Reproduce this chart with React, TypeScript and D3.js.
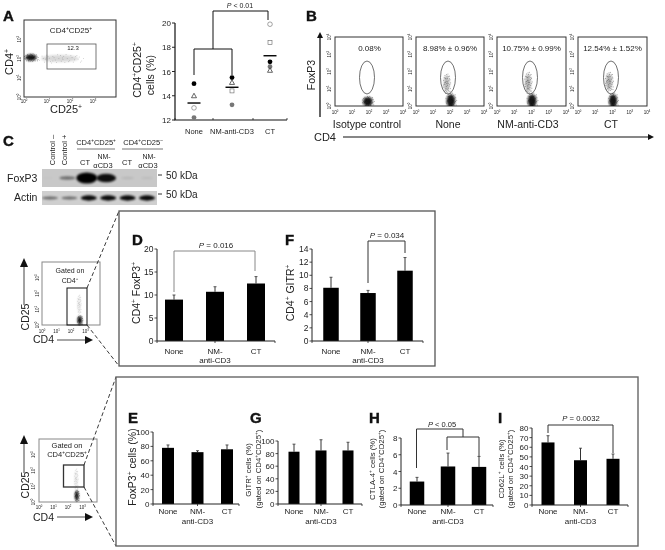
import React from "react";
import * as d3 from "d3";

const FONT = "'Liberation Sans', Arial, sans-serif";

// ---- data: panel A dots
const dotCats = ["None", "NM-anti-CD3", "CT"];
const dotTicks = [12, 14, 16, 18, 20];
const dotBlack = [15.0, 15.5, 16.8];
const dotGray = [12.2, 13.25, 16.4];
const dotTriangle = [14.0, 15.1, 16.1];
const dotCircleOpen: [number, number][] = [[0, 13.0], [2, 19.9]];
const dotSquareOpen: [number, number][] = [[1, 14.4], [2, 18.4]];
const dotMeans = [13.4, 14.7, 17.3];

// ---- data: bar panels
const barCats = ["None", "NM-", "CT"];
const dVals = [9, 10.7, 12.5];
const dErr = [10, 11.8, 14];
const dTicks = [0, 5, 10, 15, 20];
const fVals = [8.1, 7.3, 10.7];
const fErr = [9.7, 7.7, 12.7];
const fTicks = [0, 2, 4, 6, 8, 10, 12, 14];
const eVals = [78, 72, 76];
const eErr = [82, 74, 82];
const eTicks = [0, 20, 40, 60, 80, 100];
const gVals = [83, 85, 85];
const gErr = [95, 102, 98];
const gTicks = [0, 20, 40, 60, 80, 100];
const hVals = [2.8, 4.6, 4.55];
const hErr = [3.3, 6.2, 5.8];
const hTicks = [0, 2, 4, 6, 8];
const iVals = [65, 46.5, 48];
const iErr = [72, 59, 53];
const iTicks = [0, 10, 20, 30, 40, 50, 60, 70, 80];

// ---- data: flow panel B
const flowTitles = ["0.08%", "8.98% ± 0.96%", "10.75% ± 0.99%", "12.54% ± 1.52%"];
const flowNames = ["Isotype control", "None", "NM-anti-CD3", "CT"];
const decades = [0, 1, 2, 3, 4];

// clouds in log10 units: [logX, logY, spreadX, spreadY, darkness]
type Cloud = [number, number, number, number, number];
const cloudsA: Cloud[] = [[0.3, 2.05, 0.28, 0.2, 1], [1.55, 2.0, 0.95, 0.22, 0.3]];
const cloudsB: Cloud[][] = [
  [[1.93, 0.25, 0.33, 0.32, 1]],
  [[2.05, 0.3, 0.3, 0.45, 1], [1.8, 1.3, 0.2, 0.55, 0.55]],
  [[2.03, 0.3, 0.3, 0.45, 1], [1.8, 1.35, 0.2, 0.6, 0.6]],
  [[2.03, 0.3, 0.28, 0.45, 1], [1.8, 1.4, 0.22, 0.55, 0.6]],
];
const cloudsCd4: Cloud[] = [[2.6, 0.3, 0.18, 0.3, 1], [2.55, 1.3, 0.12, 0.6, 0.18]];
const cloudsCd25: Cloud[] = [[2.6, 0.4, 0.15, 0.36, 1], [2.55, 1.4, 0.12, 0.7, 0.18]];
// scatter shape shared by the clouds (unit disc)
const scatter = [
  [0.1, 0.2], [-0.3, 0.5], [0.6, -0.2], [-0.7, 0.1], [0.2, -0.8], [-0.4, -0.6], [0.8, 0.4], [-0.1, 0.9],
  [0.45, 0.7], [-0.85, -0.3], [0.9, -0.45], [-0.55, 0.8], [0.3, 0.05], [-0.2, -0.25], [0.05, -0.5], [-0.6, -0.05],
  [0.7, 0.75], [-0.95, 0.35], [0.55, -0.7], [-0.25, 0.25], [0.15, 0.55], [-0.05, 0.05], [0.4, -0.4], [-0.75, 0.6],
  [0.98, 0.1], [-0.35, -0.9], [0.25, 0.95], [-0.65, -0.7], [0.75, -0.05], [-0.15, -0.75], [0.5, 0.3], [-0.45, 0.15],
  [0.02, 0.75], [-0.9, -0.1], [0.35, -0.6], [-0.5, 0.55], [0.65, 0.5], [0.12, -0.12], [-0.3, -0.45], [0.85, -0.7],
];

// ---- data: blots
const laneNames = ["Control –", "Control +", "CT", "NM-αCD3", "CT", "NM-αCD3"];
const foxBands = [0.02, 0.42, 1, 0.85, 0.12, 0.08];
const actinBands = [0.4, 0.4, 0.85, 0.85, 0.85, 0.85];

const Rich = ({ s }: { s: string }) => {
  const parts = s.split(/(\^.|\*[^*]+\*)/).filter(Boolean);
  return (
    <>
      {parts.map((p, i) =>
        p[0] === "^" ? (
          <tspan key={i} fontSize="62%" baselineShift="38%">{p[1]}</tspan>
        ) : p[0] === "*" ? (
          <tspan key={i} fontStyle="italic">{p.slice(1, -1)}</tspan>
        ) : (
          <tspan key={i}>{p}</tspan>
        )
      )}
    </>
  );
};

const T = ({ x, y, s, size = 8, anchor = "middle", rot, weight, fill = "#222" }: any) => (
  <text
    x={x}
    y={y}
    fontSize={size}
    fontFamily={FONT}
    textAnchor={anchor}
    fontWeight={weight}
    fill={fill}
    dominantBaseline="central"
    transform={rot ? `rotate(${rot} ${x} ${y})` : undefined}
  >
    <Rich s={s} />
  </text>
);

const Letter = ({ x, y, s }: any) => (
  <text x={x} y={y} fontSize={15} fontWeight={700} fontFamily={FONT} fill="#111" stroke="#111" strokeWidth={0.4}>
    {s}
  </text>
);

const Path = ({ d, c = "#222", w = 1, dash }: any) => (
  <path d={d} fill="none" stroke={c} strokeWidth={w} strokeDasharray={dash} />
);

const Clouds = ({ clouds, sx, sy, id }: any) => (
  <g>
    {clouds.map((c: Cloud, i: number) => {
      const dark = c[4] > 0.8;
      return (
        <g key={i}>
          <ellipse
            cx={sx(10 ** c[0])}
            cy={sy(10 ** c[1])}
            rx={(sx(10 ** (c[0] + c[2])) - sx(10 ** c[0])) * 0.85}
            ry={(sy(10 ** c[1]) - sy(10 ** (c[1] + c[3]))) * 0.85}
            fill="#000"
            opacity={dark ? 0.9 : c[4] * 0.5}
            filter={`url(#${id})`}
          />
          {scatter.map((o, k) => (
            <rect
              key={k}
              x={sx(10 ** (c[0] + o[0] * c[2] * 1.1))}
              y={sy(10 ** (c[1] + o[1] * c[3] * 1.1))}
              width={0.8}
              height={0.8}
              fill="#000"
              opacity={dark ? 0.45 : c[4] * 0.8}
            />
          ))}
        </g>
      );
    })}
  </g>
);

const FlowFrame = ({ x0, x1, y0, y1, tickSize = 4.5, xLabelY, yLabelX, xDec = decades, yDec = decades, yMax = 4, xMax = 4, stroke = "#333", sw = 1, children }: any) => {
  const sx = d3.scaleLog().domain([1, 10 ** xMax]).range([x0, x1]);
  const sy = d3.scaleLog().domain([1, 10 ** yMax]).range([y1, y0]);
  return (
    <g>
      <rect x={x0} y={y0} width={x1 - x0} height={y1 - y0} fill="#fff" stroke={stroke} strokeWidth={sw} />
      {children(sx, sy)}
      {xDec.map((d: number) => (
        <T key={d} x={sx(10 ** d)} y={xLabelY} s={`10^${d}`} size={tickSize} />
      ))}
      {yDec.map((d: number) => (
        <T key={d} x={yLabelX} y={sy(10 ** d)} s={`10^${d}`} size={tickSize} rot={-90} />
      ))}
    </g>
  );
};

const BarPanel = ({ axisX, axisEnd, yTop, yBase, ticks, vals, errs, centers, barW, size = 8, tickSize = 8, labelY, label2Y }: any) => {
  const y = d3.scaleLinear().domain([0, d3.max(ticks) as number]).range([yBase, yTop]);
  const x = d3.scalePoint<string>().domain(barCats).range(centers);
  const mids = [axisX, (centers[0] + centers[1]) / 2, (centers[1] + centers[2]) / 2, axisEnd];
  return (
    <g>
      {barCats.map((c, i) => {
        const cx = x(c)!;
        return (
          <g key={c}>
            <Path d={`M${cx},${y(errs[i])}V${y(vals[i])}`} w={1} c="#333" />
            <Path d={`M${cx - 1.5},${y(errs[i])}H${cx + 1.5}`} w={0.8} c="#333" />
            <rect x={cx - barW / 2} y={y(vals[i])} width={barW} height={yBase - y(vals[i])} fill="#000" />
            <T x={cx} y={labelY} s={c} size={size} />
            {c === "NM-" && <T x={cx} y={label2Y} s="anti-CD3" size={size} />}
          </g>
        );
      })}
      <Path d={`M${axisX},${yTop}V${yBase}H${axisEnd}`} w={1} c="#222" />
      {mids.map((m, i) => <Path key={i} d={`M${m},${yBase}v2`} w={0.8} />)}
      {ticks.map((t: number) => (
        <g key={t}>
          <Path d={`M${axisX - 2.5},${y(t)}H${axisX}`} w={0.8} />
          <T x={axisX - 3.5} y={y(t)} s={String(t)} size={tickSize} anchor="end" />
        </g>
      ))}
    </g>
  );
};

const Arrow = ({ x, y, dir }: any) => {
  const p: Record<string, string> = {
    up: `M${x - 4},${y + 9}L${x},${y}L${x + 4},${y + 9}Z`,
    right: `M${x - 8},${y - 4}L${x},${y}L${x - 8},${y + 4}Z`,
  };
  return <path d={p[dir]} fill="#111" />;
};

export default function App() {
  const ya = d3.scaleLinear().domain([12, 20]).range([120, 23]);
  const xa = d3.scalePoint<string>().domain(dotCats).range([194, 270]);
  const xi = (i: number) => xa(dotCats[i])!;

  const frames = [
    [335, 403],
    [416, 484],
    [497, 566],
    [578, 647],
  ];
  const ellipseX = [367, 448, 530, 611];
  const nameX = [367, 448, 528, 611];

  const lanes = d3.scalePoint<number>().domain(d3.range(laneNames.length)).range([50, 147]);

  return (
    <svg
      width={665}
      height={550}
      viewBox="0 0 665 550"
      style={{ position: "absolute", left: 0, top: 0, filter: "blur(0.35px)" }}
    >
      <defs>
        <filter id="b1" x="-60%" y="-60%" width="220%" height="220%"><feGaussianBlur stdDeviation="0.9" /></filter>
        <filter id="b2" x="-50%" y="-100%" width="200%" height="300%"><feGaussianBlur stdDeviation="1.1" /></filter>
        <clipPath id="bclip"><rect x={42} y={169} width={115} height={36} /></clipPath>
      </defs>
      <rect width={665} height={550} fill="#fff" />

      {/* A: flow */}
      <Letter x={3} y={21} s="A" />
      <FlowFrame x0={24} x1={116} y0={20} y1={97} xLabelY={101} yLabelX={19} xDec={[0, 1, 2, 3]} yDec={[0, 1, 2, 3]}>
        {(sx: any, sy: any) => <Clouds clouds={cloudsA} sx={sx} sy={sy} id="b1" />}
      </FlowFrame>
      <rect x={47} y={44} width={49} height={25} fill="none" stroke="#555" strokeWidth={0.8} />
      <T x={71} y={30} s="CD4^+CD25^+" size={8} />
      <T x={73} y={47.5} s="12.3" size={6} />
      <T x={9} y={62} s="CD4^+" size={11} rot={-90} />
      <T x={66} y={109} s="CD25^+" size={11} />

      {/* A: dots */}
      <T x={240} y={5} s="*P* < 0.01" size={7} />
      <Path d="M194,75V49H232V75M213,49V11H268V20" w={1} c="#111" />
      <Path d="M175,23V120H287" w={1.2} c="#111" />
      {[175, 213, 253, 287].map((m) => <Path key={m} d={`M${m},120v-2`} w={0.8} />)}
      {dotTicks.map((t) => (
        <g key={t}>
          <Path d={`M172,${ya(t)}H175`} w={1} />
          <T x={171} y={ya(t)} s={String(t)} size={8} anchor="end" />
        </g>
      ))}
      {dotCats.map((c) => <T key={c} x={xa(c)} y={131} s={c} size={7.5} />)}
      {dotGray.map((v, i) => <circle key={i} cx={xi(i)} cy={ya(v)} r={2.4} fill="#777" />)}
      {dotCircleOpen.map(([i, v]) => <circle key={v} cx={xi(i)} cy={ya(v)} r={2.3} fill="#fff" stroke="#666" strokeWidth={0.6} />)}
      {dotSquareOpen.map(([i, v]) => <rect key={v} x={xi(i) - 2} y={ya(v) - 2} width={4} height={4} fill="#fff" stroke="#666" strokeWidth={0.6} />)}
      {dotBlack.map((v, i) => <circle key={i} cx={xi(i)} cy={ya(v)} r={2.4} fill="#000" />)}
      {dotTriangle.map((v, i) => (
        <path key={i} d={`M${xi(i)},${ya(v) - 2.5}l2.5,4.5h-5z`} fill="#fff" stroke="#222" strokeWidth={0.7} />
      ))}
      {dotMeans.map((v, i) => <Path key={i} d={`M${xi(i) - 6.5},${ya(v)}h13`} w={1.4} c="#000" />)}
      <T x={137} y={70} s="CD4^+CD25^+" size={10.5} rot={-90} />
      <T x={150} y={75} s="cells (%)" size={10.5} rot={-90} />

      {/* B */}
      <Letter x={306} y={21} s="B" />
      <T x={311} y={75} s="FoxP3" size={10.5} rot={-90} />
      <Path d="M320,117V38" w={1.3} c="#111" />
      <path d="M317,38L320,32L323,38Z" fill="#111" />
      <T x={325} y={137} s="CD4" size={11} />
      <Path d="M343,137H650" w={1.2} c="#111" />
      <path d="M648,134L654,137L648,140Z" fill="#111" />
      {frames.map(([a, b], i) => (
        <g key={i}>
          <FlowFrame x0={a} x1={b} y0={37} y1={106} xLabelY={112} yLabelX={a - 6}>
            {(sx: any, sy: any) => (
              <g>
                <clipPath id={`fc${i}`}><rect x={a} y={37} width={b - a} height={69} /></clipPath>
                <g clipPath={`url(#fc${i})`}>
                  <Clouds clouds={cloudsB[i]} sx={sx} sy={sy} id="b1" />
                </g>
              </g>
            )}
          </FlowFrame>
          <ellipse cx={ellipseX[i]} cy={77.5} rx={7.5} ry={16.5} fill="none" stroke="#333" strokeWidth={0.7} />
          <T x={(a + b) / 2 - (i === 0 ? -0.5 : 0)} y={48} s={flowTitles[i]} size={8} />
          <T x={nameX[i]} y={124} s={flowNames[i]} size={10.5} />
        </g>
      ))}

      {/* C */}
      <Letter x={3} y={146} s="C" />
      <rect x={42} y={169} width={115} height={18} fill="#c8c8c8" />
      <rect x={42} y={191} width={115} height={14} fill="#cfcfcf" />
      <g clipPath="url(#bclip)">
        {foxBands.map((v, i) => (
          <ellipse key={i} cx={lanes(i)! + (i < 4 ? -2 : 0)} cy={178} rx={6 + 4.5 * v} ry={0.8 + 4.8 * v * v} fill="#000" opacity={Math.min(1, v * 1.1)} filter="url(#b2)" />
        ))}
        {actinBands.map((v, i) => (
          <ellipse key={i} cx={lanes(i)!} cy={198} rx={8} ry={0.6 + 2.4 * v} fill="#000" opacity={v + 0.1} filter="url(#b2)" />
        ))}
      </g>
      <T x={52} y={150} s="Control –" size={7.5} rot={-90} />
      <T x={64} y={150} s="Control +" size={7.5} rot={-90} />
      <T x={96} y={142} s="CD4^+CD25^+" size={7.5} />
      <T x={143} y={142} s="CD4^+CD25^–" size={7.5} />
      <Path d="M77,149H115" c="#777" />
      <Path d="M122,149H163" c="#777" />
      <T x={85} y={162} s="CT" size={7.5} />
      <T x={104} y={156} s="NM-" size={7} />
      <T x={103} y={165} s="αCD3" size={7.5} />
      <T x={127} y={162} s="CT" size={7.5} />
      <T x={149} y={156} s="NM-" size={7} />
      <T x={148} y={165} s="αCD3" size={7.5} />
      <T x={7} y={178} s="FoxP3" size={10.5} anchor="start" />
      <T x={14} y={197} s="Actin" size={10.5} anchor="start" />
      <Path d="M158,175h4" c="#333" />
      <Path d="M158,194h4" c="#333" />
      <T x={166} y={175} s="50 kDa" size={10} anchor="start" />
      <T x={166} y={194} s="50 kDa" size={10} anchor="start" />

      {/* gate 1 */}
      <FlowFrame x0={42} x1={100} y0={262} y1={325} xLabelY={331} yLabelX={37} xDec={[0, 1, 2, 3]} yDec={[0, 1, 2, 3]} stroke="#888">
        {(sx: any, sy: any) => <Clouds clouds={cloudsCd4} sx={sx} sy={sy} id="b1" />}
      </FlowFrame>
      <rect x={67} y={288} width={20} height={37} fill="none" stroke="#111" strokeWidth={1} />
      <T x={70} y={270} s="Gated on" size={7} />
      <T x={70} y={280} s="CD4^+" size={7} />
      <T x={25} y={317} s="CD25" size={10.5} rot={-90} />
      <Path d="M24,305V266" c="#444" w={1} />
      <Arrow x={24} y={258} dir="up" />
      <T x={33} y={339} s="CD4" size={10.5} anchor="start" />
      <Path d="M57,340H86" c="#777" w={1.3} />
      <Arrow x={93} y={340} dir="right" />
      <Path d="M87,288L119,211" c="#222" w={0.9} dash="4 2.5" />
      <Path d="M87,325L119,366" c="#222" w={0.9} dash="4 2.5" />
      <rect x={119} y={211} width={316} height={155} fill="none" stroke="#555" strokeWidth={1.3} />

      {/* D */}
      <Letter x={132} y={245} s="D" />
      <BarPanel axisX={157} axisEnd={275} yTop={249} yBase={341} ticks={dTicks} vals={dVals} errs={dErr} centers={[174, 256]} barW={18} tickSize={8.5} labelY={351} label2Y={360} />
      <Path d="M174,292V251H255V271" c="#888" />
      <T x={216} y={245} s="*P* = 0.016" size={8} />
      <T x={136} y={293} s="CD4^+ FoxP3^+" size={10.5} rot={-90} />

      {/* F */}
      <Letter x={285} y={245} s="F" />
      <BarPanel axisX={312} axisEnd={423} yTop={249} yBase={341} ticks={fTicks} vals={fVals} errs={fErr} centers={[331, 405]} barW={15.5} tickSize={8.5} labelY={351} label2Y={360} />
      <Path d="M368,283V241H405V253" c="#333" />
      <T x={387} y={235} s="*P* = 0.034" size={8} />
      <T x={290} y={293} s="CD4^+ GITR^+" size={10.5} rot={-90} />

      {/* gate 2 */}
      <FlowFrame x0={39} x1={97} y0={439} y1={502} xLabelY={507} yLabelX={33} xDec={[0, 1, 2, 3]} yDec={[0, 1, 2, 3]} stroke="#888">
        {(sx: any, sy: any) => <Clouds clouds={cloudsCd25} sx={sx} sy={sy} id="b1" />}
      </FlowFrame>
      <rect x={63.5} y={465} width={20.5} height={22} fill="none" stroke="#333" strokeWidth={1.3} />
      <T x={67} y={445} s="Gated on" size={7.5} />
      <T x={67} y={454} s="CD4^+CD25^+" size={7.5} />
      <T x={25} y={485} s="CD25" size={10.5} rot={-90} />
      <Path d="M24,473V443" c="#444" w={1} />
      <Arrow x={24} y={435} dir="up" />
      <T x={33} y={517} s="CD4" size={10.5} anchor="start" />
      <Path d="M57,517H86" c="#777" w={1.3} />
      <Arrow x={93} y={517} dir="right" />
      <Path d="M84,465L116,377" c="#222" w={0.9} dash="4 2.5" />
      <Path d="M84,487L116,546" c="#222" w={0.9} dash="4 2.5" />
      <rect x={116} y={377} width={522} height={169} fill="none" stroke="#666" strokeWidth={1.4} />

      {/* E */}
      <Letter x={128} y={423} s="E" />
      <BarPanel axisX={153} axisEnd={239} yTop={432} yBase={504} ticks={eTicks} vals={eVals} errs={eErr} centers={[168, 227]} barW={12} labelY={511} label2Y={521} />
      <T x={132} y={467} s="FoxP3^+ cells (%)" size={10.5} rot={-90} />

      {/* G */}
      <Letter x={250} y={423} s="G" />
      <BarPanel axisX={278} axisEnd={362} yTop={441} yBase={504} ticks={gTicks} vals={gVals} errs={gErr} centers={[294, 348]} barW={11} labelY={511} label2Y={521} />
      <T x={248} y={470} s="GITR^+ cells (%)" size={7.8} rot={-90} />
      <T x={258} y={469} s="(gated on CD4^+CD25^+)" size={7.8} rot={-90} />

      {/* H */}
      <Letter x={369} y={423} s="H" />
      <BarPanel axisX={401} axisEnd={493} yTop={438} yBase={505} ticks={hTicks} vals={hVals} errs={hErr} centers={[417, 479]} barW={14.5} labelY={511} label2Y={521} />
      <Path d="M416.5,468V429H463V437M447,450V437H479V456" c="#333" />
      <T x={442} y={424} s="*P* < 0.05" size={7.5} />
      <T x={372} y={469} s="CTLA-4^+ cells (%)" size={7.8} rot={-90} />
      <T x={381} y={469} s="(gated on CD4^+CD25^+)" size={7.8} rot={-90} />

      {/* I */}
      <Letter x={498} y={423} s="I" />
      <BarPanel axisX={532} axisEnd={628} yTop={428} yBase={505} ticks={iTicks} vals={iVals} errs={iErr} centers={[548, 613]} barW={13} labelY={511} label2Y={521} />
      <Path d="M548,433V425H613V453" c="#333" />
      <T x={581} y={418} s="*P* = 0.0032" size={7.7} />
      <T x={501} y={469} s="CD62L^+ cells (%)" size={7.8} rot={-90} />
      <T x={510} y={469} s="(gated on CD4^+CD25^+)" size={7.8} rot={-90} />
    </svg>
  );
}
